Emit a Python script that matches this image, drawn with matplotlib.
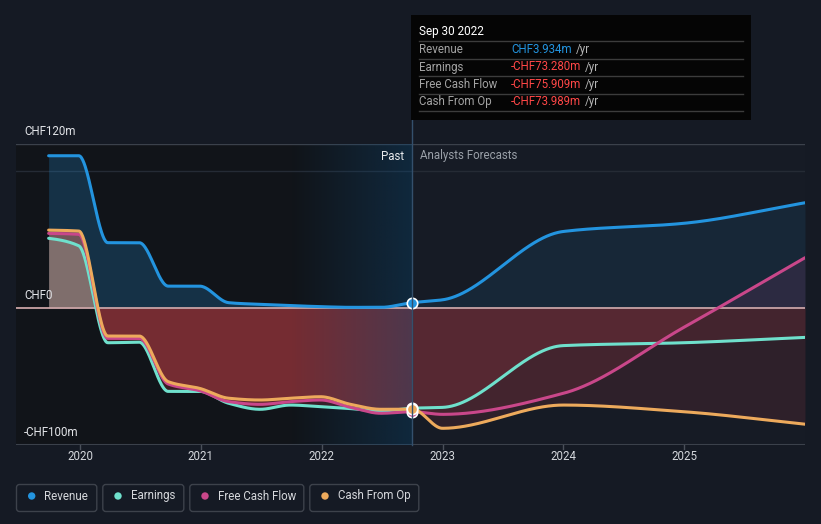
import numpy as np
import matplotlib
matplotlib.use("Agg")
import matplotlib.pyplot as plt
from matplotlib.patches import Rectangle, FancyBboxPatch, Circle
from matplotlib.transforms import IdentityTransform
from matplotlib.lines import Line2D

plt.rcParams['font.family'] = ['Roboto', 'DejaVu Sans']

# ---------------- data (CHF millions, trailing twelve months) ----------------
dates = [2019.74, 2019.99, 2020.23, 2020.49, 2020.73, 2020.99, 2021.23, 2021.49,
         2021.74, 2021.99, 2022.24, 2022.49, 2022.75, 2023.0, 2024.0, 2025.0, 2026.0]
revenue = [111.4, 111.4, 47.8, 47.8, 16.0, 16.0, 3.9, 2.7, 1.8, 1.0, 0.5, 0.5, 3.934,
           6.0, 56.0, 62.0, 77.0]
earnings = [51.0, 45.5, -25.4, -25.0, -61.0, -61.0, -69.7, -74.1, -71.0, -72.2, -73.6,
            -75.3, -73.28, -72.7, -27.5, -25.4, -21.5]
free_cash_flow = [54.6, 53.9, -22.2, -22.2, -55.6, -60.5, -68.5, -70.5, -68.5, -67.3,
                  -72.7, -77.0, -75.909, -77.8, -62.4, -14.0, 36.8]
cash_from_op = [57.0, 56.3, -20.5, -20.5, -53.9, -58.8, -66.0, -67.3, -66.0, -64.9,
                -70.5, -74.1, -73.989, -88.0, -71.0, -75.9, -85.0]

series_names = ["Revenue", "Earnings", "Free Cash Flow", "Cash From Op"]
series_colors = ["#2394df", "#6fe0cc", "#c9478a", "#edaa5c"]
tooltip_values = ["CHF3.934m", "-CHF73.280m", "-CHF75.909m", "-CHF73.989m"]
year_ticks = [2020, 2021, 2022, 2023, 2024, 2025]
y_labels = [(120, "CHF120m"), (0, "CHF0"), (-100, "-CHF100m")]
now = 2022.75
band_start = 2021.75

# ---------------- helpers ----------------
W, H = 821, 524


def pchip(x, y, xs):
    x = np.asarray(x, float)
    y = np.asarray(y, float)
    h = np.diff(x)
    d = np.diff(y) / h
    n = len(x)
    m = np.zeros(n)
    for k in range(1, n - 1):
        if d[k - 1] * d[k] <= 0:
            m[k] = 0.0
        else:
            w1 = 2 * h[k] + h[k - 1]
            w2 = h[k] + 2 * h[k - 1]
            m[k] = (w1 + w2) / (w1 / d[k - 1] + w2 / d[k])
    m[0] = d[0] * 0.5
    m[-1] = d[-1]
    idx = np.clip(np.searchsorted(x, xs) - 1, 0, n - 2)
    t = (xs - x[idx]) / h[idx]
    h00 = 2 * t**3 - 3 * t**2 + 1
    h10 = t**3 - 2 * t**2 + t
    h01 = -2 * t**3 + 3 * t**2
    h11 = t**3 - t**2
    return h00 * y[idx] + h10 * h[idx] * m[idx] + h01 * y[idx + 1] + h11 * h[idx] * m[idx + 1]


def P(x, y):
    """pixel (top-left origin) -> display coords"""
    return x, H - y


fig = plt.figure(figsize=(W / 100, H / 100), dpi=100)
fig.patch.set_facecolor("#151a24")

ax_left, ax_right, ax_top, ax_bot = 16, 805, 144, 444.7
ax = fig.add_axes([ax_left / W, 1 - ax_bot / H, (ax_right - ax_left) / W, (ax_bot - ax_top) / H])
ax.set_facecolor("#161b25")
xmin, xmax = 2019.47, 2026.0
ax.set_xlim(xmin, xmax)
ax.set_ylim(-100, 120)
for s in ax.spines.values():
    s.set_visible(False)
ax.set_xticks([])
ax.set_yticks([])

# backgrounds
ax.add_patch(Rectangle((xmin, -100), band_start - xmin, 220, facecolor="#111419",
                       edgecolor="none", zorder=0))
ax.add_patch(Rectangle((band_start, -100), now - band_start, 220, facecolor="#111419",
                       edgecolor="none", zorder=0))

# grid lines
ax.axhline(120, color="#3b414b", lw=1.0, zorder=0.5)
ax.axhline(100, color="#252b35", lw=1.0, zorder=0.5)
ax.axhline(-100, color="#3b414b", lw=1.5, zorder=0.5)

xs = np.linspace(dates[0], dates[-1], 1200)
past = xs <= now + 1e-9
fut = xs >= now - 1e-9

curves = [pchip(dates, v, xs) for v in (revenue, earnings, free_cash_flow, cash_from_op)]

# revenue fill
ax.fill_between(xs[past], 0, curves[0][past], color=series_colors[0], alpha=0.23, lw=0, zorder=1)
ax.fill_between(xs[fut], 0, curves[0][fut], color=series_colors[0], alpha=0.10, lw=0, zorder=1)

# other fills
red = "#e2484f"
for c, col in zip(curves[1:], series_colors[1:]):
    pos = np.maximum(c, 0)
    neg = np.minimum(c, 0)
    ax.fill_between(xs[past], 0, pos[past], color=col, alpha=0.27, lw=0, zorder=1)
    ax.fill_between(xs[fut], 0, pos[fut], color=col, alpha=0.12, lw=0, zorder=1)
    ax.fill_between(xs[past], 0, neg[past], color=red, alpha=0.20, lw=0, zorder=1)
    ax.fill_between(xs[fut], 0, neg[fut], color=red, alpha=0.12, lw=0, zorder=1)

# highlight band (gradient overlay)
grad = np.zeros((2, 256, 4))
base = matplotlib.colors.to_rgb("#0e4a78")
grad[..., 0], grad[..., 1], grad[..., 2] = base
grad[..., 3] = np.linspace(0.0, 0.38, 256)[None, :]
ax.imshow(grad, extent=[band_start, now, -100, 120], aspect="auto", zorder=2,
          interpolation="bilinear")
ax.set_xlim(xmin, xmax)
ax.set_ylim(-100, 120)

# zero line
ax.axhline(0, color="#c9a3a5", lw=1.3, zorder=3)

# lines
for c, col in zip(curves, series_colors):
    ax.plot(xs, c, color=col, lw=2.2, zorder=4, solid_capstyle="round")

# markers at now
idx_now = dates.index(now)
marker_order = [0, 2, 1, 3]
for i in marker_order:
    vals = [revenue, earnings, free_cash_flow, cash_from_op][i]
    ax.plot([now], [vals[idx_now]], 'o', ms=7.5, mfc=series_colors[i], mec="white",
            mew=1.2, zorder=6, clip_on=False)

# x tick marks and labels
for yr in year_ticks:
    ax.plot([yr, yr], [-100, -100], zorder=0)
    xp = ax.transData.transform((yr, -100))[0]
    fig.add_artist(Line2D([xp, xp], [H - 444.7, H - 448.5], color="#4a505a", lw=1,
                          transform=IdentityTransform()))
    fig.text(xp, H - 457, str(yr), transform=IdentityTransform(), ha="center", va="center",
             color="#d4d7dc", fontsize=8.3)

# y labels
for v, lab in y_labels:
    ypix = ax.transData.transform((xmin, v))[1]
    fig.text(24, ypix + 12.5, lab, transform=IdentityTransform(), ha="left", va="center",
             color="#e2e4e8", fontsize=8.3)

# vertical "now" line
xnow = ax.transData.transform((now, 0))[0]
fig.add_artist(Line2D([xnow, xnow], [H - 120, H - 444.7], color="#34506c", lw=1.0,
                      transform=IdentityTransform(), zorder=2.5))

fig.text(xnow - 8, H - 156, "Past", transform=IdentityTransform(), ha="right", va="center",
         color="#e8eaed", fontsize=8.3)
fig.text(xnow + 8, H - 156, "Analysts Forecasts", transform=IdentityTransform(), ha="left",
         va="center", color="#9aa0a8", fontsize=8.3)

# tooltip
fig.add_artist(Rectangle((411, H - 120), 340, 105, facecolor="#050505", edgecolor="none",
                         transform=IdentityTransform(), zorder=10))
fig.text(419, H - 31, "Sep 30 2022", transform=IdentityTransform(), ha="left", va="center",
         color="#ffffff", fontsize=8.5, zorder=11)
row_y = [49.5, 67, 84.5, 101.5]
sep_y = [41, 58.5, 76, 93.5, 111]
for sy in sep_y:
    fig.add_artist(Line2D([419, 743], [H - sy, H - sy], color="#3c3c3c", lw=1.0,
                          transform=IdentityTransform(), zorder=11))
renderer = fig.canvas.get_renderer()
for i, (name, val) in enumerate(zip(series_names, tooltip_values)):
    fig.text(419, H - row_y[i], name, transform=IdentityTransform(), ha="left", va="center",
             color="#a3a3a3", fontsize=8.3, zorder=11)
    vcol = "#2394df" if i == 0 else "#ff4747"
    t = fig.text(511, H - row_y[i], val, transform=IdentityTransform(), ha="left", va="center",
                 color=vcol, fontsize=8.3, zorder=11)
    bb = t.get_window_extent(renderer)
    fig.text(bb.x1 + 4, H - row_y[i], "/yr", transform=IdentityTransform(), ha="left",
             va="center", color="#b5b5b5", fontsize=8.3, zorder=11)

# legend
boxes = [(16, 97.3), (102.3, 184.3), (189.3, 304.3), (309.3, 419.3)]
for (x0, x1), name, col in zip(boxes, series_names, series_colors):
    fig.add_artist(FancyBboxPatch((x0 + 0.5, H - 511.5), x1 - x0 - 1, 27,
                                  boxstyle="round,pad=0,rounding_size=3",
                                  facecolor="none", edgecolor="#3d424b", lw=1.0,
                                  transform=IdentityTransform()))
    fig.add_artist(Circle((x0 + 15.7, H - 496), 3.7, facecolor=col, edgecolor="none",
                          transform=IdentityTransform()))
    fig.text(x0 + 28.3, H - 496, name, transform=IdentityTransform(), ha="left",
             va="center", color="#d6d8dc", fontsize=8.3)

fig.savefig("out.png", dpi=100, facecolor=fig.get_facecolor())
